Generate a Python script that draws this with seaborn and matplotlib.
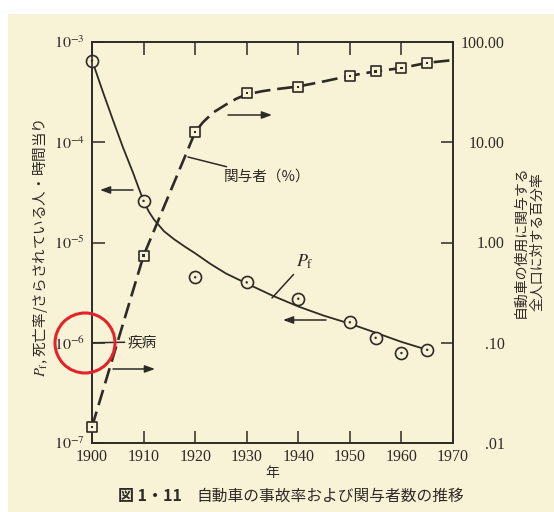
import matplotlib as mpl
mpl.use("Agg")
import matplotlib.pyplot as plt
import seaborn as sns
from matplotlib.patches import Ellipse, Rectangle

# ---- data ----
# fatality rate P_f (left axis), measured points
pf_years = [1900, 1910, 1920, 1930, 1940, 1950, 1955, 1960, 1965]
pf_rate = [6.5e-4, 2.6e-5, 4.5e-6, 4.0e-6, 2.75e-6, 1.6e-6, 1.12e-6, 7.9e-7, 8.5e-7]

# hand-drawn P_f trend curve
pf_curve_years = [1900, 1902, 1904, 1906, 1908, 1909, 1910, 1911, 1912, 1913, 1914,
                  1916, 1918, 1920, 1923, 1926, 1930, 1935, 1940, 1945, 1950, 1955,
                  1960, 1965]
pf_curve_rate = [6.6e-4, 3.3e-4, 1.7e-4, 8.9e-5, 4.9e-5, 3.55e-5, 2.6e-5, 2.04e-5,
                 1.7e-5, 1.48e-5, 1.29e-5, 1.07e-5, 9.1e-6, 7.8e-6, 6.1e-6, 4.9e-6,
                 3.9e-6, 2.95e-6, 2.3e-6, 1.86e-6, 1.55e-6, 1.26e-6, 1.02e-6, 8.5e-7]

# share of population involved in car use, % (right axis)
inv_years = [1900, 1910, 1920, 1930, 1940, 1950, 1955, 1960, 1965]
inv_pct = [0.0145, 0.74, 12.6, 31, 35.5, 46, 51, 55, 62]

inv_curve_years = [1900, 1910, 1920, 1921.5, 1923.5, 1926, 1928, 1930, 1933, 1936,
                   1940, 1945, 1950, 1955, 1960, 1965, 1970]
inv_curve_pct = [0.0145, 0.74, 12.6, 15.8, 19.8, 23.8, 27.2, 30, 32.3, 34, 36,
                 40.5, 46, 51, 55, 62, 66]

disease_rate = 1e-6

x_ticks = [1900, 1910, 1920, 1930, 1940, 1950, 1960, 1970]
left_ticks = [1e-7, 1e-6, 1e-5, 1e-4, 1e-3]
left_labels = [r"$10^{-7}$", r"$10^{-6}$", r"$10^{-5}$", r"$10^{-4}$", r"$10^{-3}$"]
right_ticks = [0.01, 0.1, 1, 10, 100]
right_labels = [".01", ".10", "1.00", "10.00", "100.00"]

# ---- style ----
sns.set_theme(style="ticks")
plt.rcParams["font.family"] = ["Liberation Serif", "Noto Sans CJK JP"]
plt.rcParams["mathtext.fontset"] = "stix"

W, H = 554, 512
paper = "#f8f3d6"
ink = "#2e2a25"
jp = ["Noto Sans CJK JP", "DejaVu Sans"]


def fx(px):
    return px / W


def fy(py):
    return 1 - py / H


fig = plt.figure(figsize=(W / 100, H / 100), dpi=100, facecolor="white")
fig.add_artist(Rectangle((fx(8), 0), 1, fy(14), transform=fig.transFigure,
                         fc=paper, ec="none", zorder=-10))

ax = fig.add_axes([fx(92), fy(443), (453 - 92) / W, (443 - 42) / H])
ax.set_facecolor("none")
ax2 = ax.twinx()

# P_f curve + points
sns.lineplot(x=pf_curve_years, y=pf_curve_rate, ax=ax, color=ink, lw=1.3,
             sort=False, estimator=None)
sns.scatterplot(x=pf_years, y=pf_rate, ax=ax, marker="o", s=75, color=ink,
                facecolor=paper, edgecolor=ink, linewidth=1.2, zorder=5, clip_on=False)
sns.scatterplot(x=pf_years, y=pf_rate, ax=ax, marker="o", s=3, color=ink,
                edgecolor="none", zorder=6, clip_on=False)

# involvement curve + points
sns.lineplot(x=inv_curve_years, y=inv_curve_pct, ax=ax2, color=ink, lw=1.9,
             ls=(0, (6, 2.6)), sort=False, estimator=None)
sns.scatterplot(x=inv_years, y=inv_pct, ax=ax2, marker="s", s=62, color=ink,
                facecolor=paper, edgecolor=ink, linewidth=1.2, zorder=5, clip_on=False)
sns.scatterplot(x=inv_years, y=inv_pct, ax=ax2, marker="s", s=3, color=ink,
                edgecolor="none", zorder=6, clip_on=False)

# axes
ax.set_xlim(1900, 1970)
ax.set_yscale("log")
ax.set_ylim(1e-7, 1e-3)
ax2.set_yscale("log")
ax2.set_ylim(0.01, 100)
ax.set_xticks(x_ticks)
ax.set_yticks(left_ticks)
ax.set_yticklabels(left_labels)
ax.yaxis.set_minor_locator(mpl.ticker.NullLocator())
ax2.set_yticks(right_ticks)
ax2.set_yticklabels(right_labels)
ax2.yaxis.set_minor_locator(mpl.ticker.NullLocator())
ax.set_xlabel("")
ax.set_ylabel("")
ax2.set_ylabel("")

for a in (ax, ax2):
    for sp in a.spines.values():
        sp.set_color(ink)
        sp.set_linewidth(1.2)
ax.tick_params(axis="x", direction="in", length=9, width=1.1, top=True,
               colors=ink, labelsize=11.5, pad=4)
ax.tick_params(axis="y", direction="in", length=9, width=1.1, right=False,
               colors=ink, labelsize=11.5, pad=5)
ax2.tick_params(axis="y", direction="in", length=9, width=1.1, left=False,
                colors=ink, labelsize=11.5, pad=37)
for lbl in ax2.get_yticklabels():
    lbl.set_horizontalalignment("right")

# annotations
arrow = dict(arrowstyle="-|>,head_length=0.6,head_width=0.22", color=ink, lw=1.1,
             shrinkA=0, shrinkB=0, mutation_scale=10)
for tail, head in [((228, 115), (272, 115)), ((133, 190), (100, 190)),
                   ((113, 369), (155, 369)), ((326, 320), (283, 320))]:
    ax.annotate("", xy=(fx(head[0]), fy(head[1])), xytext=(fx(tail[0]), fy(tail[1])),
                xycoords="figure fraction", textcoords="figure fraction", arrowprops=arrow)

line = dict(arrowstyle="-", color=ink, lw=1.1, shrinkA=0, shrinkB=0)
ax.annotate("関与者（%）", xy=(fx(188), fy(157)), xytext=(fx(224), fy(177)),
            xycoords="figure fraction", textcoords="figure fraction",
            ha="left", va="center", fontsize=10.5, family=jp, color=ink,
            arrowprops=line)
ax.annotate(r"$P_\mathrm{f}$", xy=(fx(272), fy(298)), xytext=(fx(296), fy(262)),
            xycoords="figure fraction", textcoords="figure fraction",
            ha="left", va="center", fontsize=13, color=ink, arrowprops=line)
ax.annotate("疾病", xy=(1900, disease_rate), xytext=(fx(128), fy(342)),
            xycoords="data", textcoords="figure fraction",
            ha="left", va="center", fontsize=10.5, family=jp, color=ink,
            arrowprops=line)

# labels
fig.text(fx(40), fy(248), r"$P_\mathrm{f}$, 死亡率/さらされている人・時間当り",
         rotation=90, ha="center", va="center", fontsize=10.5, family=jp, color=ink)
fig.text(fx(529), fy(242), "自動車の使用に関与する\n全人口に対する百分率",
         rotation=90, ha="center", va="center", multialignment="center",
         linespacing=1.25, fontsize=10, family=jp, color=ink)
fig.text(fx(272), fy(473), "年", ha="center", va="center", fontsize=10,
         family=jp, color=ink)
fig.text(fx(118), fy(496), "図 1・11", ha="left", va="center", fontsize=11.5,
         family=jp, weight="bold", color=ink)
fig.text(fx(196), fy(496), "自動車の事故率および関与者数の推移", ha="left",
         va="center", fontsize=11.3, family=jp, color=ink)

# red marker circle drawn on the scan
fig.add_artist(Ellipse((fx(85), fy(343)), 60 / W, 60 / H, transform=fig.transFigure,
                       fill=False, ec="#e4222a", lw=2.2, zorder=10))

fig.savefig("out.png", dpi=100, facecolor=fig.get_facecolor())
